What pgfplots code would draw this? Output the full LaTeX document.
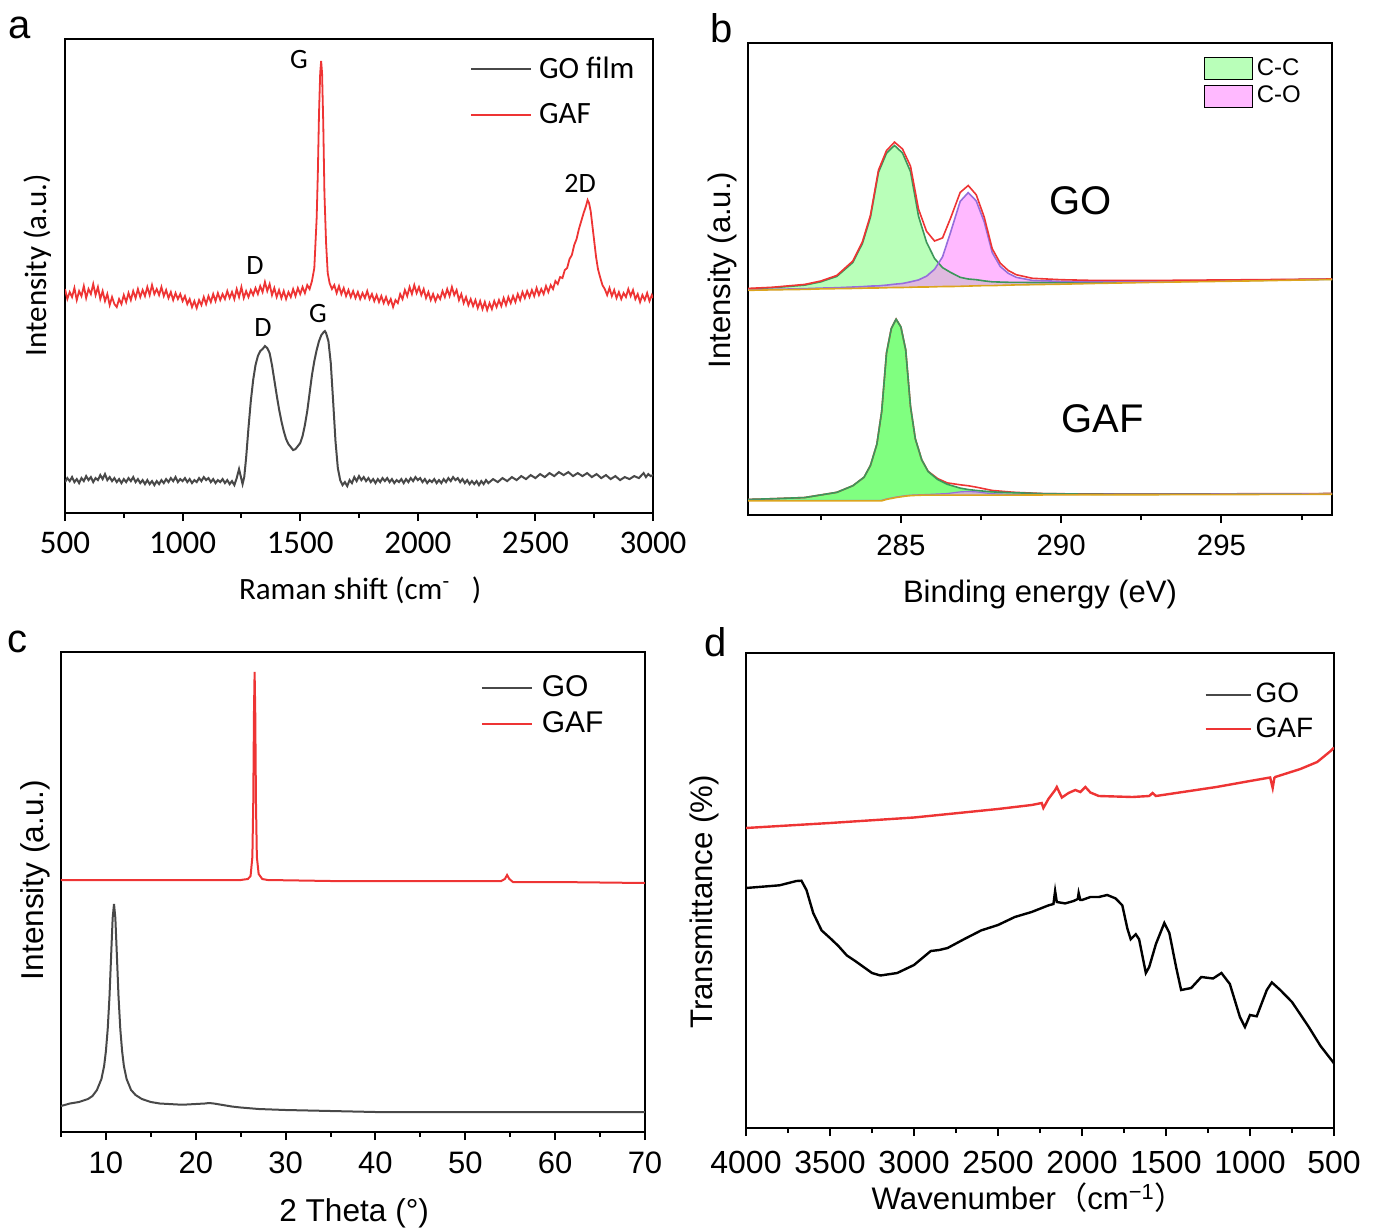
\documentclass[border=0pt]{standalone}
\usepackage{fontspec}
\setmainfont{Liberation Sans}
\newfontfamily\calibri{Carlito}
\newfontfamily\cjk{Noto Sans CJK SC}
\usepackage{pgfplots}
\pgfplotsset{compat=1.18}
\usepackage{pgfplotstable}

\definecolor{gafred}{RGB}{238,52,52}
\definecolor{gogray}{RGB}{72,72,72}
\definecolor{ccfill}{RGB}{128,255,128}
\definecolor{cofill}{RGB}{255,128,255}
\definecolor{ccedge}{RGB}{60,150,90}
\definecolor{coedge}{RGB}{150,110,220}
\definecolor{bgline}{RGB}{220,165,30}

\newcommand{\fs}[1]{\fontsize{#1}{#1}\selectfont}

\pgfplotsset{
  panel/.style={
    scale only axis, anchor=north west,
    axis line style={line width=1.2pt},
    tick align=outside, xtick pos=left, ytick=\empty,
    major tick length=4pt, minor tick length=2.5pt,
    every tick/.style={black, line width=1pt},
    /pgf/number format/assume math mode=true,
    /pgf/number format/1000 sep={},
    scaled x ticks=false,
    legend cell align=left,
  },
}

% XPS C1s fits, y in % of axis height
\pgfplotstableread{
x      B     cc     co     env
280.23 47.6  47.9   47.7   48.0
281.0  47.7  48.15  47.8   48.25
282.0  47.8  48.7   47.95  48.85
282.5  47.9  49.4   48.07  49.57
283.0  47.95 50.55  48.15  50.75
283.5  48.0  53.5   48.3   53.8
283.8  48.05 57.55  48.38  57.9
284.05 48.1  63.1   48.5   63.5
284.3  48.1  72.6   48.55  73.05
284.55 48.15 76.65  48.7   77.2
284.8  48.2  78.3   48.9   79.0
285.05 48.2  76.7   49.05  77.55
285.3  48.25 72.75  49.4   73.9
285.55 48.3  63.3   49.8   64.8
285.8  48.3  57.8   50.6   60.1
286.05 48.35 54.35  52.05  58.05
286.3  48.4  52.4   54.7   58.7
286.55 48.4  51.4   59.9   62.9
286.85 48.45 50.35  66.45  68.35
287.1  48.5  50.0   68.3   69.8
287.35 48.55 49.85  66.55  67.85
287.6  48.6  49.6   62.1   63.1
287.85 48.6  49.4   55.6   56.4
288.1  48.65 49.35  52.65  53.35
288.35 48.7  49.3   51.2   51.8
288.6  48.75 49.3   50.35  50.9
289.1  48.8  49.25  49.7   50.15
290.0  48.9  49.25  49.5   49.85
291.0  49.05 49.3   49.45  49.7
293.0  49.3  49.45  49.55  49.7
296.0  49.6  49.7   49.75  49.85
298.45 49.9  49.95  49.98  50.0
}\goxps

\pgfplotstableread{
x      B     cc     co     env
280.23 3.0   3.3    3.1    3.3
281.0  3.0   3.45   3.1    3.45
282.0  3.0   3.7    3.1    3.7
283.0  3.0   4.8    3.1    4.8
283.5  3.0   6.2    3.1    6.2
283.85 3.0   8.0    3.1    8.0
284.05 3.0   10.5   3.1    10.5
284.25 3.0   15.0   3.1    15.0
284.4  3.0   21.9   3.1    21.9
284.55 3.3   34.3   3.4    34.3
284.7  3.5   39.5   3.6    39.5
284.85 3.7   41.5   3.8    41.5
285.0  3.85  39.85  3.95   39.85
285.15 4.0   35.0   4.1    35.0
285.3  4.1   23.0   4.2    23.0
285.45 4.15  16.15  4.25   16.15
285.65 4.2   11.7   4.3    11.7
285.85 4.2   9.2    4.35   9.25
286.15 4.2   7.5    4.45   7.7
286.45 4.2   6.5    4.55   6.8
286.85 4.2   5.7    4.9    6.4
287.1  4.2   5.4    5.0    6.2
287.35 4.2   5.2    4.9    5.9
287.85 4.2   4.9    4.5    5.2
288.5  4.22  4.72   4.36   4.82
289.5  4.25  4.52   4.35   4.52
291.0  4.27  4.4    4.37   4.45
293.0  4.3   4.4    4.4    4.45
296.0  4.35  4.45   4.45   4.5
298.45 4.4   4.5    4.5    4.55
}\gafxps

\begin{document}
\begin{tikzpicture}
\path[use as bounding box] (0,0) rectangle (688pt,-614.5pt);

% ---------------- a: Raman ----------------
\begin{axis}[panel,
  at={(32.5pt,-19.5pt)}, width=294pt, height=237pt,
  xmin=500, xmax=3000, ymin=0, ymax=474,
  xtick={500,1000,...,3000}, minor x tick num=1,
  tick label style={font=\calibri\fs{16.5}},
  xticklabel style={yshift=-2pt},
  label style={font=\calibri\fs{15.5}},
  xlabel={Raman shift (cm\textsuperscript{-}\hspace{0.7em})},
  ylabel={Intensity (a.u.)},
  xlabel style={at={(axis description cs:0.502,-0.162)}, anchor=center},
  ylabel style={at={(axis description cs:-0.046,0.523)}, anchor=center},
  legend style={draw=none, fill=none, at={(0.678,0.98)}, anchor=north west,
    font=\calibri\fs{15.5}, row sep=7pt},
  legend image code/.code={\draw[#1] (0pt,0pt) -- (30pt,0pt); \path (31.5pt,0pt);},
]
\addplot[gogray, line width=1pt] coordinates {
(500,31) (510,35) (520,32) (530,36) (540,31) (550,34) (560,30) (570,35) (580,32) (590,37)
(600,33) (610,36) (620,31) (630,35) (640,33) (650,38) (660,34) (670,39) (680,33) (690,36)
(700,32) (710,35) (720,31) (730,34) (740,30) (750,34) (760,31) (770,35) (780,32) (790,36)
(800,31) (810,34) (820,30) (830,33) (840,29) (850,33) (860,29) (870,32) (880,28) (890,32)
(900,29) (910,33) (920,30) (930,34) (940,31) (950,35) (960,32) (970,36) (980,31) (990,34)
(1000,32) (1010,35) (1020,31) (1030,34) (1040,30) (1050,33) (1060,31) (1070,35) (1080,32) (1090,36)
(1100,33) (1110,35) (1120,31) (1130,34) (1140,30) (1150,33) (1160,31) (1170,34) (1180,30) (1190,33)
(1200,29) (1210,32) (1220,28) (1230,35) (1240,44) (1248,36) (1255,29) (1262,36) (1270,55) (1280,85)
(1290,112) (1300,133) (1310,148) (1320,157) (1330,162) (1340,164) (1350,167) (1360,165) (1370,160) (1380,148)
(1390,133) (1400,118) (1410,104) (1420,92) (1430,82) (1440,74) (1450,69) (1460,66) (1470,63) (1480,64)
(1490,67) (1500,70) (1510,77) (1520,88) (1530,102) (1540,120) (1550,138) (1560,152) (1570,163) (1580,172)
(1590,178) (1600,181) (1605,182) (1610,180) (1620,172) (1630,150) (1640,112) (1650,72) (1660,45) (1670,33)
(1680,28) (1690,31) (1700,27) (1710,33) (1720,30) (1730,36) (1740,32) (1750,37) (1760,33) (1770,36)
(1780,32) (1790,35) (1800,31) (1810,34) (1820,30) (1830,34) (1840,31) (1850,35) (1860,32) (1870,35)
(1880,31) (1890,34) (1900,30) (1910,33) (1920,31) (1930,34) (1940,30) (1950,34) (1960,31) (1970,35)
(1980,32) (1990,36) (2000,33) (2010,35) (2020,31) (2030,34) (2040,30) (2050,33) (2060,31) (2070,34)
(2080,30) (2090,33) (2100,30) (2110,34) (2120,31) (2130,35) (2140,32) (2150,36) (2160,33) (2170,35)
(2180,31) (2190,34) (2200,30) (2210,33) (2220,29) (2230,32) (2240,29) (2250,32) (2260,28) (2270,32)
(2280,29) (2290,33) (2300,30) (2320,34) (2340,31) (2360,35) (2380,32) (2400,36) (2420,33) (2440,37)
(2460,34) (2480,38) (2500,35) (2520,39) (2540,36) (2560,40) (2580,37) (2600,41) (2620,38) (2640,41)
(2660,37) (2680,40) (2700,37) (2720,40) (2740,36) (2760,39) (2780,35) (2800,38) (2820,34) (2840,37)
(2860,33) (2880,36) (2900,34) (2920,37) (2940,35) (2960,40) (2970,36) (2980,39) (2990,37) (3000,38)
};
\addlegendentry{GO film}
\addplot[gafred, line width=0.9pt] coordinates {
(500,224) (510,214) (520,221) (530,216) (540,225) (550,213) (560,222) (570,217) (580,227) (590,215)
(600,224) (610,219) (620,229) (630,218) (640,226) (650,214) (660,222) (670,212) (680,219) (690,208)
(700,216) (710,209) (720,206) (730,214) (740,209) (750,218) (760,211) (770,220) (780,213) (790,222)
(800,215) (810,224) (820,216) (830,223) (840,217) (850,226) (860,218) (870,228) (880,219) (890,224)
(900,218) (910,226) (920,217) (930,223) (940,215) (950,221) (960,213) (970,220) (980,214) (990,219)
(1000,212) (1010,217) (1020,209) (1030,214) (1040,206) (1050,212) (1060,205) (1070,213) (1080,208) (1090,216)
(1100,209) (1110,217) (1120,211) (1130,219) (1140,212) (1150,220) (1160,213) (1170,219) (1180,214) (1190,222)
(1200,215) (1210,221) (1220,214) (1230,224) (1240,216) (1250,226) (1260,215) (1270,222) (1280,216) (1290,223)
(1300,218) (1310,225) (1320,219) (1330,227) (1340,221) (1350,231) (1360,222) (1370,229) (1380,218) (1390,225)
(1400,216) (1410,223) (1420,215) (1430,222) (1440,214) (1450,221) (1460,216) (1470,224) (1480,217) (1490,225)
(1500,219) (1510,226) (1520,220) (1530,228) (1540,224) (1550,232) (1560,245) (1570,295) (1575,340) (1580,400)
(1585,440) (1589,452) (1593,440) (1598,390) (1603,320) (1610,270) (1617,240) (1625,230) (1635,224) (1645,228)
(1655,220) (1665,227) (1675,219) (1685,225) (1695,217) (1705,223) (1715,216) (1725,222) (1735,215) (1745,221)
(1755,214) (1765,220) (1775,215) (1785,222) (1795,214) (1805,219) (1815,212) (1825,218) (1835,211) (1845,217)
(1855,210) (1865,216) (1875,209) (1885,214) (1895,206) (1905,213) (1915,210) (1925,219) (1935,214) (1945,223)
(1955,217) (1965,226) (1975,219) (1985,228) (1995,220) (2005,226) (2015,218) (2025,224) (2035,215) (2045,221)
(2055,213) (2065,219) (2075,212) (2085,218) (2095,214) (2105,222) (2115,216) (2125,224) (2135,217) (2145,226)
(2155,218) (2165,223) (2175,213) (2185,219) (2195,210) (2205,216) (2215,208) (2225,214) (2235,207) (2245,213)
(2255,205) (2265,212) (2275,204) (2285,211) (2295,203) (2305,210) (2315,204) (2325,212) (2335,206) (2345,213)
(2355,207) (2365,215) (2375,208) (2385,216) (2395,210) (2405,217) (2415,211) (2425,219) (2435,213) (2445,221)
(2455,215) (2465,222) (2475,216) (2485,223) (2495,217) (2505,225) (2515,218) (2525,224) (2535,219) (2545,227)
(2555,221) (2565,228) (2575,224) (2585,232) (2595,229) (2605,236) (2615,235) (2625,243) (2635,245) (2645,254)
(2655,258) (2665,268) (2675,274) (2685,284) (2695,292) (2705,300) (2715,307) (2722,313) (2728,310) (2735,302)
(2742,288) (2750,272) (2758,256) (2766,244) (2775,236) (2785,228) (2795,224) (2805,218) (2815,225) (2825,217)
(2835,223) (2845,215) (2855,221) (2865,214) (2875,220) (2885,216) (2895,224) (2905,217) (2915,223) (2925,214)
(2935,219) (2945,211) (2955,218) (2965,213) (2975,220) (2985,212) (2995,218) (3000,215)
};
\addlegendentry{GAF}
\node[font=\calibri\fs{14}] at (axis cs:1495,453) {G};
\node[font=\calibri\fs{14}] at (axis cs:1308,248) {D};
\node[font=\calibri\fs{14}] at (axis cs:2690,330) {2D};
\node[font=\calibri\fs{14}] at (axis cs:1342,186) {D};
\node[font=\calibri\fs{14}] at (axis cs:1576,200) {G};
\end{axis}

% ---------------- b: XPS ----------------
\begin{axis}[panel,
  at={(374pt,-21.5pt)}, width=292pt, height=236pt,
  xmin=280.23, xmax=298.45, ymin=0, ymax=100,
  xtick={285,290,295}, minor xtick={282.5,287.5,292.5,297.5},
  tick label style={font=\fs{14.7}},
  xticklabel style={yshift=-2.5pt},
  label style={font=\fs{15.5}},
  xlabel={Binding energy (eV)},
  ylabel={Intensity (a.u.)},
  xlabel style={at={(axis description cs:0.5,-0.169)}, anchor=center},
  ylabel style={at={(axis description cs:-0.0445,0.519)}, anchor=center},
  legend style={draw=none, fill=none, at={(0.77,0.985)}, anchor=north west,
    font=\fs{12}, row sep=0pt},
  legend image code/.code={\draw[#1] (0pt,-5.5pt) rectangle (24pt,5.5pt);},
]
% GO: filled components (component curve out, baseline back)
\addplot[draw=none, fill=ccfill, fill opacity=0.55] coordinates {
(280.23,47.9) (281.0,48.15) (282.0,48.7) (282.5,49.4) (283.0,50.55) (283.5,53.5) (283.8,57.55)
(284.05,63.1) (284.3,72.6) (284.55,76.65) (284.8,78.3) (285.05,76.7) (285.3,72.75) (285.55,63.3)
(285.8,57.8) (286.05,54.35) (286.3,52.4) (286.55,51.4) (286.85,50.35) (287.1,50.0) (287.35,49.85)
(287.6,49.6) (287.85,49.4) (288.1,49.35) (288.6,49.3) (290.0,49.25) (293.0,49.45) (298.45,49.95)
(298.45,49.9) (280.23,47.6)
};
\addlegendentry{C-C}
\addplot[draw=none, fill=cofill, fill opacity=0.55] coordinates {
(280.23,47.7) (282.0,47.95) (283.0,48.15) (284.05,48.5) (284.8,48.9) (285.3,49.4) (285.55,49.8)
(285.8,50.6) (286.05,52.05) (286.3,54.7) (286.55,59.9) (286.85,66.45) (287.1,68.3) (287.35,66.55)
(287.6,62.1) (287.85,55.6) (288.1,52.65) (288.35,51.2) (288.6,50.35) (289.1,49.7) (290.0,49.5)
(291.0,49.45) (293.0,49.55) (296.0,49.75) (298.45,49.98) (298.45,49.9) (280.23,47.6)
};
\addlegendentry{C-O}
\addplot[ccedge, line width=0.8pt, forget plot] table[x=x, y=cc] {\goxps};
\addplot[coedge, line width=0.8pt, forget plot] table[x=x, y=co] {\goxps};
\addplot[gafred, line width=0.8pt, forget plot] table[x=x, y=env] {\goxps};
\addplot[bgline, line width=0.8pt, forget plot] table[x=x, y=B] {\goxps};
% GAF
\addplot[draw=none, fill=ccfill, forget plot] coordinates {
(280.23,3.3) (281.0,3.45) (282.0,3.7) (283.0,4.8) (283.5,6.2) (283.85,8.0) (284.05,10.5)
(284.25,15.0) (284.4,21.9) (284.55,34.3) (284.7,39.5) (284.85,41.5) (285.0,39.85) (285.15,35.0)
(285.3,23.0) (285.45,16.15) (285.65,11.7) (285.85,9.2) (286.15,7.5) (286.45,6.5) (286.85,5.7)
(287.1,5.4) (287.35,5.2) (287.85,4.9) (288.5,4.72) (289.5,4.52) (291.0,4.4) (298.45,4.5)
(298.45,4.4) (285.65,4.2) (285.3,4.1) (285.0,3.85) (284.7,3.5) (284.4,3.0) (280.23,3.0)
};
\addplot[draw=none, fill=cofill, fill opacity=0.6, forget plot] coordinates {
(285.65,4.3) (285.85,4.35) (286.15,4.45) (286.45,4.55) (286.85,4.9) (287.1,5.0) (287.35,4.9)
(287.85,4.5) (288.5,4.36) (289.5,4.35) (289.5,4.25) (285.65,4.2)
};
\addplot[gafred, line width=0.8pt, forget plot] table[x=x, y=env] {\gafxps};
\addplot[ccedge, line width=0.8pt, forget plot] table[x=x, y=cc] {\gafxps};
\addplot[coedge, line width=0.6pt, forget plot] table[x=x, y=co] {\gafxps};
\addplot[bgline, line width=0.8pt, forget plot] table[x=x, y=B] {\gafxps};
\node[font=\fs{20}] at (axis cs:290.6,66.5) {GO};
\node[font=\fs{20}] at (axis cs:291.3,20.3) {GAF};
\end{axis}

% ---------------- c: XRD ----------------
\begin{axis}[panel,
  at={(30.5pt,-326pt)}, width=292pt, height=240pt,
  xmin=5, xmax=70, ymin=0, ymax=480,
  xtick={10,20,...,70}, minor xtick={5,15,...,65},
  tick label style={font=\fs{15.5}},
  xticklabel style={yshift=-2.5pt},
  label style={font=\fs{15.8}},
  xlabel={2 Theta (°)},
  ylabel={Intensity (a.u.)},
  xlabel style={at={(axis description cs:0.502,-0.169)}, anchor=center},
  ylabel style={at={(axis description cs:-0.0445,0.525)}, anchor=center},
  legend style={draw=none, fill=none, at={(0.708,0.968)}, anchor=north west,
    font=\fs{15}, row sep=2pt},
  legend image code/.code={\draw[#1] (0pt,0pt) -- (25pt,0pt); \path (27.5pt,0pt);},
]
\addplot[gogray, line width=1pt] coordinates {
(5,26) (6,28.5) (7,30) (8,33) (8.5,36) (9,42) (9.5,53) (9.8,66) (10.0,81) (10.2,103)
(10.4,136) (10.6,181) (10.75,214) (10.9,228) (11.05,214) (11.2,181) (11.4,136) (11.6,103)
(11.8,81) (12.0,66) (12.3,53) (12.8,42) (13.3,37) (14,33) (15,30) (16,28.5) (17,28) (18,27.5)
(19,27.5) (20,28) (21,28.5) (21.5,29) (22,28.5) (23,27) (24,25.5) (25,24.5) (27,23) (30,22)
(35,21) (40,20) (50,20) (60,20) (70,20)
};
\addlegendentry{GO}
\addplot[gafred, line width=1pt] coordinates {
(5,252) (10,252) (15,252) (20,252) (25,252) (25.8,253) (26.1,256) (26.3,275) (26.4,330)
(26.48,420) (26.55,460) (26.62,420) (26.7,330) (26.8,275) (27.0,258) (27.4,253) (28,252)
(35,251) (45,251) (54,251) (54.4,253) (54.65,257) (54.9,253) (55.3,250) (60,250) (70,249)
};
\addlegendentry{GAF}
\end{axis}

% ---------------- d: FTIR ----------------
\begin{axis}[panel,
  at={(373pt,-326.5pt)}, width=294pt, height=237.5pt,
  x dir=reverse,
  xmin=500, xmax=4000, ymin=0, ymax=475,
  xtick={500,1000,...,4000}, minor x tick num=1,
  tick label style={font=\fs{16}},
  xticklabel style={yshift=-4pt},
  label style={font=\fs{15.6}},
  xlabel={Wavenumber{\cjk （}cm\textsuperscript{−1}{\cjk ）}},
  ylabel={Transmittance (\%)},
  xlabel style={at={(axis description cs:0.481,-0.147)}, anchor=center},
  ylabel style={at={(axis description cs:-0.07,0.476)}, anchor=center},
  legend style={draw=none, fill=none, at={(0.769,0.954)}, anchor=north west,
    font=\fs{14}, row sep=2pt},
  legend image code/.code={\draw[#1] (0pt,0pt) -- (22.5pt,0pt);},
]
\addplot[black, line width=1.2pt, legend image post style={gogray, line width=1pt}] coordinates {
(4000,240) (3800,242.7) (3700,247) (3670,247.3) (3640,238) (3600,215) (3550,197.6)
(3500,190) (3450,182) (3400,172.6) (3350,167) (3300,161) (3250,155) (3200,152.5)
(3100,155) (3000,163) (2900,177) (2850,178) (2800,180) (2700,189) (2600,197.6)
(2500,203) (2400,211) (2300,216) (2200,222.6) (2170,224) (2160,237) (2150,226)
(2100,224.6) (2050,227) (2025,229) (2020,235) (2010,228) (2000,228) (1950,231)
(1900,231) (1850,233) (1800,229.6) (1760,222.6) (1730,199.5) (1710,188.7) (1680,193.8)
(1660,188.7) (1620,155) (1600,161) (1560,184) (1510,205) (1480,195) (1440,161)
(1410,138) (1350,140) (1290,151) (1220,149.5) (1170,155) (1120,144) (1060,111)
(1030,101) (1000,113) (960,111.7) (900,138) (870,145.6) (820,138) (750,126)
(650,101) (580,82) (500,64.7)
};
\addlegendentry{GO}
\addplot[gafred, line width=1.2pt, legend image post style={line width=1pt}] coordinates {
(4000,300) (3500,305) (3000,310.5) (2500,319) (2300,323) (2240,325) (2230,320) (2200,329)
(2160,338) (2150,341) (2120,330.5) (2080,335) (2040,338) (2010,336) (1980,341)
(1950,335.5) (1900,332) (1700,331) (1600,332) (1580,335) (1560,332) (1400,336)
(1200,341) (1000,347) (880,350.5) (865,340) (855,350) (850,351) (700,359)
(600,366) (520,377) (500,380.5)
};
\addlegendentry{GAF}
\end{axis}

\node[font=\fs{20}] at (10pt,-14pt) {a};
\node[font=\fs{20}] at (361pt,-14pt) {b};
\node[font=\fs{20}] at (9pt,-321pt) {c};
\node[font=\fs{20}] at (358pt,-321pt) {d};
\end{tikzpicture}
\end{document}
